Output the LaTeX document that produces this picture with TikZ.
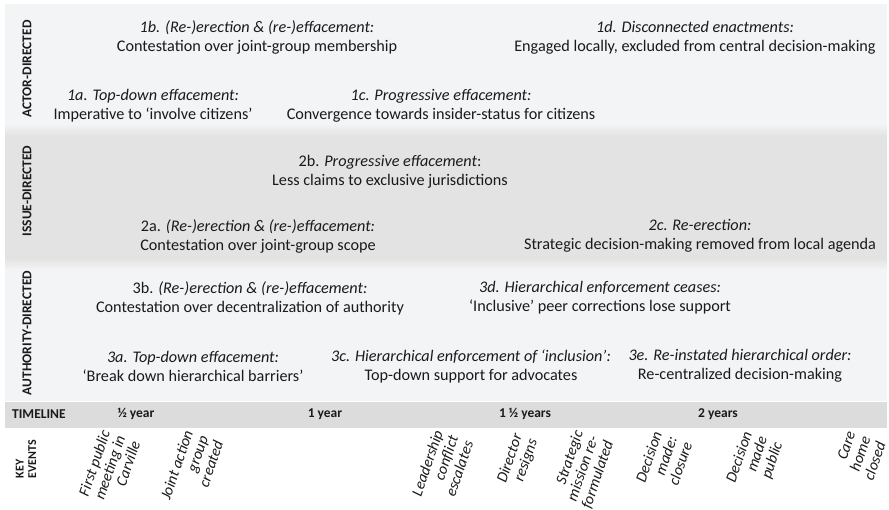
\documentclass[tikz,border=0pt]{standalone}
\usepackage{fontspec}
\setmainfont{Carlito}
\definecolor{bandlight}{HTML}{F3F4F6}
\definecolor{banddark}{HTML}{E3E3E3}
\definecolor{timeband}{HTML}{DCDCDC}
\definecolor{ink}{HTML}{1A1A1A}
\tikzset{
	band/.style      = {draw=none, fill=bandlight},
	phase/.style     = {align=center, text=ink,
		font=\fontsize{16.2}{19}\selectfont},
	dimlabel/.style  = {rotate=90, text=ink,
		font=\bfseries\fontsize{13.5}{14}\selectfont},
	timemark/.style  = {text=ink, font=\bfseries\fontsize{13.5}{15}\selectfont},
	event/.style     = {rotate=71, align=right, anchor=north east, inner sep=0pt,
		text=ink, font=\itshape\fontsize{15.5}{16}\selectfont}
}

\begin{document}
\begin{tikzpicture}
[
x = 1pt,
y = -1pt
]
\useasboundingbox (0,0) rectangle (889,510);
% bands
\fill[band] (5,4) rectangle (887,125);
\fill[top color=bandlight, bottom color=banddark] (5,124) rectangle (887,136);
\fill[banddark] (5,135) rectangle (887,259);
\fill[top color=banddark, bottom color=bandlight] (5,258) rectangle (887,270);
\fill[band] (5,269) rectangle (887,401);
\fill[timeband] (5,402) rectangle (887,428);

% dimensions
\node[dimlabel] (actor) at (27,69) {ACTOR-DIRECTED};
\node[dimlabel] (issue) at (27,191) {ISSUE-DIRECTED};
\node[dimlabel] (authority) at (27,333) {AUTHORITY-DIRECTED};

% actor-directed
\node[phase] (p1b) at (257,37.5) {\textit{1b. (Re-)erection \& (re-)effacement:}\\Contestation over joint-group membership};
\node[phase] (p1d) at (695,37.5) {\textit{1d. Disconnected enactments:}\\Engaged locally, excluded from central decision-making};
\node[phase] (p1a) at (153,106) {\textit{1a. Top-down effacement:}\\Imperative to `involve citizens'};
\node[phase] (p1c) at (441,106) {\textit{1c. Progressive effacement:}\\Convergence towards insider-status for citizens};

% issue-directed
\node[phase] (p2b) at (390,172) {2b. \textit{Progressive effacement}:\\Less claims to exclusive jurisdictions};
\node[phase] (p2a) at (258,236) {2a. \textit{(Re-)erection \& (re-)effacement:}\\Contestation over joint-group scope};
\node[phase] (p2c) at (700,236) {\textit{2c. Re-erection:}\\Strategic decision-making removed from local agenda};

% authority-directed
\node[phase] (p3b) at (250,298) {3b. \textit{(Re-)erection \& (re-)effacement:}\\Contestation over decentralization of authority};
\node[phase] (p3d) at (600,298) {\textit{3d. Hierarchical enforcement ceases:}\\`Inclusive' peer corrections lose support};
\node[phase] (p3a) at (193,366) {\textit{3a. Top-down effacement:}\\`Break down hierarchical barriers'};
\node[phase] (p3c) at (471,366) {\textit{3c. Hierarchical enforcement of `inclusion':}\\Top-down support for advocates};
\node[phase] (p3e) at (740,366) {\textit{3e. Re-instated hierarchical order:}\\Re-centralized decision-making};

% timeline
\node[timemark, anchor=west, inner sep=0pt] (timeline) at (12,414) {TIMELINE};
\node[timemark] (half) at (136,414) {½ year};
\node[timemark] (one) at (325,414) {1 year};
\node[timemark] (onehalf) at (525,414) {1 ½ years};
\node[timemark] (two) at (718,414) {2 years};

% key events
\node[dimlabel, align=left, font=\bfseries\fontsize{12}{12.5}\selectfont] (keyevents) at (26,459) {KEY\\EVENTS};
\node[event] (e1) at (100,429) {First public\\meeting in\\Carville};
\node[event] (e2) at (183,429) {Joint action\\group\\created};
\node[event] (e3) at (433,429) {Leadership\\conflict\\escalates};
\node[event] (e4) at (512,432) {Director\\resigns};
\node[event] (e5) at (573,429) {Strategic\\mission re-\\formulated};
\node[event] (e6) at (652,430) {Decision\\made:\\closure};
\node[event] (e7) at (742,430) {Decision\\made\\public};
\node[event] (e8) at (846,430) {Care\\home\\closed};
\end{tikzpicture}
\end{document}
